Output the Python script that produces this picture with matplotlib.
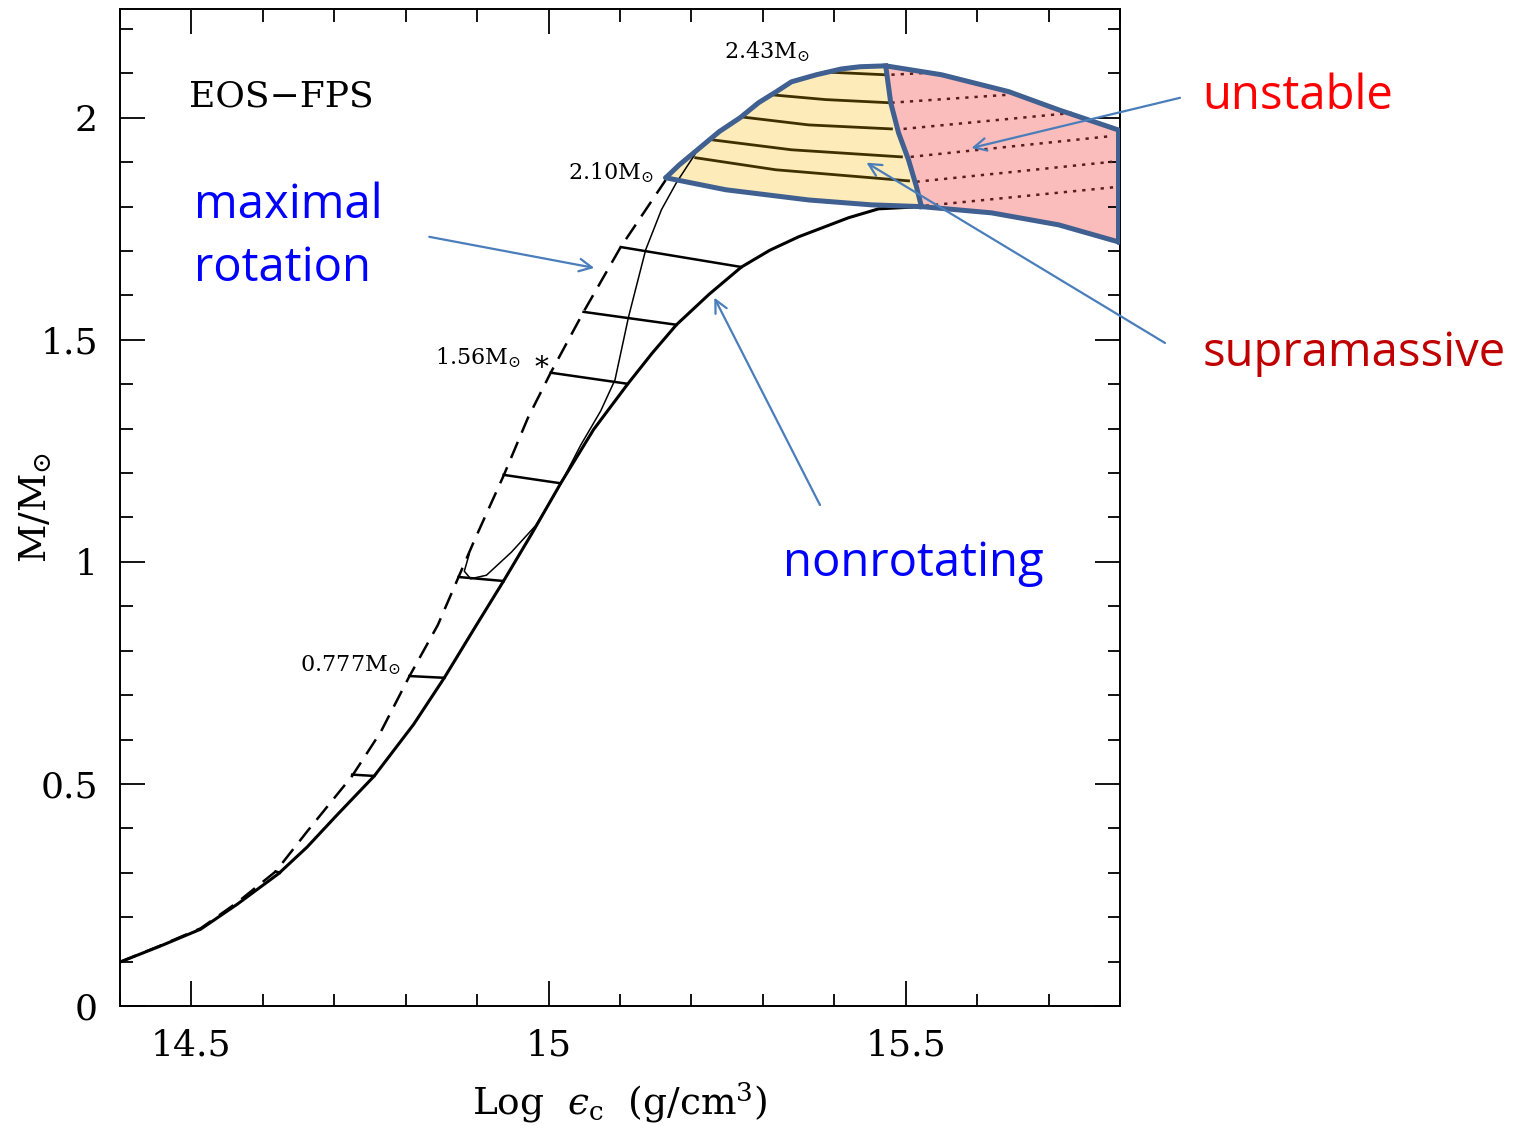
import numpy as np
import matplotlib
matplotlib.use("Agg")
import matplotlib.pyplot as plt
from matplotlib.ticker import MultipleLocator

plt.rcParams['font.family'] = 'DejaVu Serif'
plt.rcParams['mathtext.fontset'] = 'dejavuserif'

# ---- data (x = log eps_c, y = M/Msun)
# nonrotating sequence
nonrot_x = [14.40, 14.455, 14.513, 14.564, 14.622, 14.662, 14.702, 14.756, 14.811, 14.854, 14.896,
            14.937, 14.977, 15.017, 15.063, 15.111, 15.145, 15.179, 15.225, 15.270, 15.310, 15.350,
            15.420, 15.462, 15.522, 15.620, 15.714, 15.797]
nonrot_y = [0.099, 0.134, 0.173, 0.229, 0.298, 0.358, 0.427, 0.518, 0.634, 0.739, 0.850,
            0.957, 1.065, 1.177, 1.298, 1.401, 1.470, 1.534, 1.603, 1.664, 1.702, 1.732,
            1.775, 1.795, 1.800, 1.786, 1.759, 1.721]

# maximal rotation (Kepler) sequence, dashed part
kep_x = [14.40, 14.455, 14.513, 14.564, 14.618, 14.662, 14.725, 14.765, 14.805, 14.845, 14.874,
         14.896, 14.937, 14.971, 15.003, 15.049, 15.101, 15.164]
kep_y = [0.099, 0.135, 0.175, 0.233, 0.303, 0.393, 0.518, 0.617, 0.742, 0.858, 0.966,
         1.048, 1.194, 1.324, 1.426, 1.563, 1.709, 1.860]

# upper boundary (max rotation, supramassive part)
top_x = [15.164, 15.183, 15.239, 15.268, 15.294, 15.319, 15.340, 15.375, 15.410, 15.436, 15.472,
         15.550, 15.644, 15.714, 15.797]
top_y = [1.865, 1.894, 1.969, 2.000, 2.034, 2.059, 2.081, 2.097, 2.110, 2.115, 2.117,
         2.097, 2.059, 2.018, 1.973]

# lower boundary of the supramassive band
sup_low_x = [15.164, 15.248, 15.364, 15.452, 15.522]
sup_low_y = [1.865, 1.838, 1.815, 1.804, 1.800]

# onset of instability (divides stable / unstable)
div_x = [15.472, 15.479, 15.490, 15.504, 15.515, 15.522]
div_y = [2.117, 2.034, 1.966, 1.905, 1.845, 1.800]

# thin solid sequence
thin_x = [14.889, 14.882, 14.891, 14.913, 14.948, 14.982, 15.013, 15.045, 15.073, 15.093,
          15.112, 15.136, 15.158, 15.179, 15.205]
thin_y = [1.018, 0.979, 0.962, 0.970, 1.022, 1.082, 1.164, 1.263, 1.340, 1.410,
          1.552, 1.703, 1.793, 1.854, 1.918]

# constant rest-mass sequences below the supramassive band (Kepler end, nonrot end)
rung_x0 = [14.618, 14.725, 14.805, 14.874, 14.937, 15.003, 15.049, 15.101]
rung_y0 = [0.303, 0.521, 0.743, 0.966, 1.196, 1.426, 1.563, 1.709]
rung_x1 = [14.624, 14.756, 14.854, 14.937, 15.017, 15.111, 15.179, 15.270]
rung_y1 = [0.300, 0.518, 0.739, 0.957, 1.177, 1.401, 1.534, 1.664]

# supramassive sequences, stable part (solid): three points each
supra_x = [[15.388, 15.430, 15.470],
           [15.311, 15.388, 15.476],
           [15.270, 15.364, 15.480],
           [15.231, 15.340, 15.494],
           [15.206, 15.318, 15.504]]
supra_y = [[2.103, 2.100, 2.097],
           [2.052, 2.041, 2.034],
           [2.002, 1.984, 1.975],
           [1.950, 1.928, 1.912],
           [1.910, 1.883, 1.858]]

# unstable part (dotted)
unst_x = [[15.480, 15.528], [15.480, 15.644], [15.497, 15.733],
          [15.507, 15.789], [15.515, 15.789], [15.528, 15.794]]
unst_y = [[2.097, 2.101], [2.034, 2.052], [1.975, 2.011],
          [1.912, 1.959], [1.856, 1.901], [1.802, 1.844]]

blue_edge = '#3F6090'
arrow_c = '#4A7EBB'

fig = plt.figure(figsize=(15.22, 11.25), dpi=100)
ax = fig.add_axes([120 / 1522, 119 / 1125, 1000 / 1522, 997 / 1125])
ax.set_xlim(14.4, 15.8)
ax.set_ylim(0, 2.245)

# filled regions
yel_x = top_x[:11] + div_x[1:] + sup_low_x[::-1]
yel_y = top_y[:11] + div_y[1:] + sup_low_y[::-1]
ax.fill(yel_x, yel_y, color='#FDEBB9', zorder=1, lw=0)
pink_x = top_x[10:] + [15.797] + nonrot_x[-3:][::-1] + div_x[::-1]
pink_y = top_y[10:] + [1.721] + nonrot_y[-3:][::-1] + div_y[::-1]
ax.fill(pink_x, pink_y, color='#FBBCBC', zorder=1, lw=0)

# black curves
ax.plot(nonrot_x, nonrot_y, color='k', lw=2.2, zorder=3, solid_joinstyle='round')
ax.plot(kep_x, kep_y, color='k', lw=1.8, ls=(0, (7, 4)), zorder=3)
ax.plot(thin_x, thin_y, color='k', lw=1.1, zorder=3)
for a, b, c, d in zip(rung_x0, rung_x1, rung_y0, rung_y1):
    ax.plot([a, b], [c, d], color='k', lw=1.8, zorder=3)
for xs, ys in zip(supra_x, supra_y):
    ax.plot(xs, ys, color='#3E3000', lw=2.0, zorder=3)
for xs, ys in zip(unst_x, unst_y):
    ax.plot(xs, ys, color='#5C1B1B', lw=1.8, ls=(0, (1.3, 2.4)), zorder=3)

# blue outlines
ax.plot(top_x, top_y, color=blue_edge, lw=3.6, zorder=4, solid_capstyle='round', solid_joinstyle='round')
ax.plot(sup_low_x + nonrot_x[-3:], sup_low_y + nonrot_y[-3:], color=blue_edge, lw=3.6, zorder=4,
        solid_capstyle='round', solid_joinstyle='round')
ax.plot(div_x, div_y, color=blue_edge, lw=3.6, zorder=4, solid_joinstyle='round')
ax.plot([15.797, 15.797], [1.973, 1.721], color=blue_edge, lw=3.6, zorder=4, solid_capstyle='round')

# labels on the curves
small = dict(fontsize=16, zorder=5)
ax.text(15.245, 2.149, r'2.43M$_{\odot}$', ha='left', va='center', **small)
ax.text(15.147, 1.876, r'2.10M$_{\odot}$', ha='right', va='center', **small)
ax.text(14.961, 1.459, r'1.56M$_{\odot}$', ha='right', va='center', **small)
ax.text(14.990, 1.436, '*', ha='center', va='center', fontsize=20)
ax.text(14.793, 0.768, r'0.777M$_{\odot}$', ha='right', va='center', **small)
ax.text(14.496, 2.047, 'EOS\u2212FPS', ha='left', va='center', fontsize=26)

# ticks
ax.xaxis.set_major_locator(MultipleLocator(0.5))
ax.xaxis.set_minor_locator(MultipleLocator(0.1))
ax.yaxis.set_major_locator(MultipleLocator(0.5))
ax.yaxis.set_minor_locator(MultipleLocator(0.1))
ax.xaxis.set_major_formatter(plt.FuncFormatter(lambda v, p: f'{v:g}'))
ax.yaxis.set_major_formatter(plt.FuncFormatter(lambda v, p: f'{v:g}'))
ax.tick_params(which='both', direction='in', top=True, right=True, width=1.3, labelsize=26)
ax.tick_params(which='major', length=18, pad=16)
ax.tick_params(which='minor', length=9)
for s in ax.spines.values():
    s.set_linewidth(1.4)

fig.text(620 / 1522, 1 - 1103 / 1125, 'Log  $\u03f5_{\\rm c}$  (g/cm$^3$)', ha='center', va='center',
         fontsize=27)
fig.text(36 / 1522, 1 - 508 / 1125, r'M/M$_{\odot}$', ha='center', va='center', rotation=90, fontsize=27)

# annotations
ann_font = dict(family='Open Sans', fontsize=34, clip_on=False, zorder=6)
ax.text(14.504, 1.803, 'maximal', color='#0000FF', ha='left', va='center', **ann_font)
ax.text(14.504, 1.661, 'rotation', color='#0000FF', ha='left', va='center', **ann_font)
ax.text(15.328, 0.996, 'nonrotating', color='#0000FF', ha='left', va='center', **ann_font)
ax.text(15.915, 2.048, 'unstable', color='#FF0000', ha='left', va='center', **ann_font)
ax.text(15.915, 1.469, 'supramassive', color='#C00000', ha='left', va='center', **ann_font)

arrows = [((14.833, 1.732), (15.064, 1.662)),
          ((15.380, 1.128), (15.232, 1.595)),
          ((15.884, 2.045), (15.592, 1.932)),
          ((15.863, 1.493), (15.445, 1.899))]
for start, end in arrows:
    ax.annotate('', xy=end, xytext=start, annotation_clip=False, zorder=6,
                arrowprops=dict(arrowstyle='->,head_length=0.9,head_width=0.45', color=arrow_c,
                                lw=1.6, shrinkA=0, shrinkB=0))

fig.savefig('out.png', dpi=100)
